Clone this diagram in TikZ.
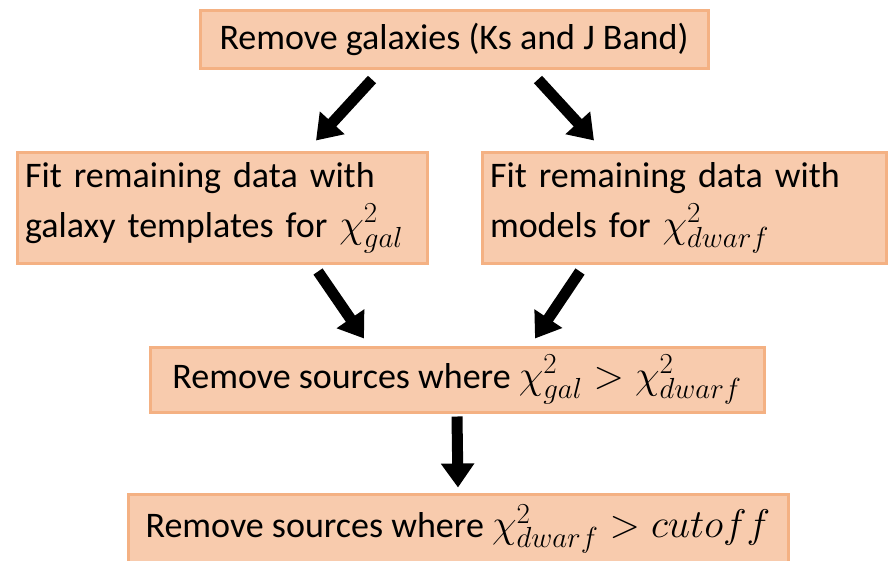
\RequirePackage{fix-cm}
\documentclass[tikz,border=0pt]{standalone}
\usepackage{fontspec}
\setmainfont{Carlito}
\DeclareMathSizes{36}{40}{29}{22}
\usetikzlibrary{arrows.meta,positioning}
\definecolor{boxfill}{HTML}{F8CBAD}
\definecolor{boxedge}{HTML}{F4B183}
\tikzset{%
    base/.style = {
        rectangle, draw=boxedge, fill=boxfill, line width=3pt,
        inner sep=8pt, font=\fontsize{36}{50}\selectfont
    },
    stepbox/.style = {base, text centered},
    fitbox/.style = {base, align=left, text width=394pt, minimum height=111pt},
    bigarrow/.style = {line width=11pt, -{Triangle[width=32pt,length=24pt]}},
}
\begin{document}
\begin{tikzpicture}[x=1pt, y=1pt]
        \useasboundingbox[fill=white] (0,0) rectangle (888,-560);

        % Nodes position
        \node (removeGal) [stepbox, minimum width=508pt, minimum height=58pt]
            at (454,-39)    {Remove galaxies (Ks and J Band)};
        \node (fitGal)    [fitbox]
            at (222,-207.5) {Fit remaining data with\\galaxy templates for $\chi^2_{gal}$};
        \node (fitDwarf)  [fitbox, text width=388pt]
            at (684,-207.5) {Fit remaining data with\\models for $\chi^2_{dwarf}$};
        \node (removeSrc) [stepbox, minimum width=614pt, minimum height=65pt]
            at (457,-379.5) {Remove sources where $\chi^2_{gal} > \chi^2_{dwarf}$};
        \node (removeCut) [stepbox, minimum width=660pt, minimum height=70pt]
            at (458,-529)   {Remove sources where $\chi^2_{dwarf} > cutoff$};

        % Arrow specification
        \draw[bigarrow] ([shift={(-82,-10)}]removeGal.south) -- ([shift={(94,10)}]fitGal.north);
        \draw[bigarrow] ([shift={(84,-10)}]removeGal.south)  -- ([shift={(-90,10)}]fitDwarf.north);
        \draw[bigarrow] ([shift={(96,-7)}]fitGal.south)      -- ([shift={(-93,7)}]removeSrc.north);
        \draw[bigarrow] ([shift={(-104,-7)}]fitDwarf.south)  -- ([shift={(78,7)}]removeSrc.north);
        \draw[bigarrow] ([yshift=-3pt]removeSrc.south)       -- ([yshift=5pt]removeCut.north);
\end{tikzpicture}
\end{document}
